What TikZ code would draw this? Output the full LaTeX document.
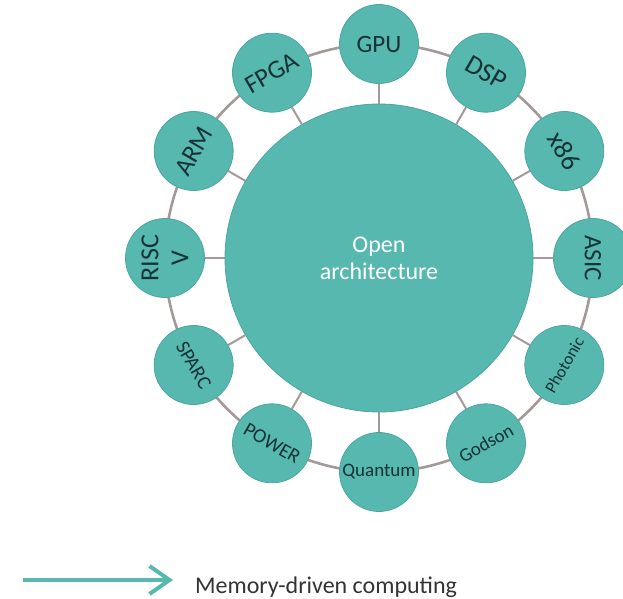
\documentclass[tikz,border=0pt]{standalone}
\usepackage{fontspec}
\setmainfont{Carlito}
\usepackage{tikz}
\usetikzlibrary{positioning,backgrounds,arrows.meta}
\definecolor{archteal}{RGB}{86,184,175}
\definecolor{archedge}{RGB}{76,166,158}
\definecolor{archgray}{RGB}{165,152,152}
\definecolor{archink}{RGB}{24,50,54}
\definecolor{legendink}{RGB}{51,51,51}

\begin{document}
\begin{tikzpicture}[
  x=1pt,y=1pt,
  core/.style={circle,fill=archteal,draw=archedge,line width=0.8pt,minimum size=308pt,inner sep=0pt,align=center,text=white,font=\fontsize{24}{27}\selectfont},
  sat/.style={circle,fill=archteal,draw=archedge,line width=0.8pt,minimum size=79pt,inner sep=0pt,align=center,text=archink,font=\fontsize{26}{30}\selectfont},
  satsmall/.style={sat,font=\fontsize{20}{22}\selectfont},
  spoke/.style={line width=2pt,color=archgray},
  ring/.style={line width=2.6pt,color=archgray,looseness=0.87},
  legarrow/.style={-{Straight Barb[length=20pt,width=28pt]},line width=4pt,color=archteal}
]
\useasboundingbox (-379,-340) rectangle (244,258);

\node[core] (core) at (0,0) {Open\\architecture};

% satellites, clockwise from the top
\node[sat,font=\fontsize{25}{30}\selectfont] (gpu) at (90:214) {GPU};
\node[sat,rotate=-30,font=\fontsize{27}{30}\selectfont] (dsp) at (60:214) {DSP};
\node[sat,rotate=-60,font=\fontsize{27}{30}\selectfont] (x86) at (30:214) {x86};
\node[sat,rotate=-90,font=\fontsize{25}{30}\selectfont] (asic) at (0:214) {ASIC};
\node[satsmall,rotate=60,font=\fontsize{17}{19}\selectfont] (photonic) at (-30:214) {Photonic};
\node[satsmall,rotate=30,font=\fontsize{19}{21}\selectfont] (godson) at (-60:214) {Godson};
\node[satsmall,font=\fontsize{19}{21}\selectfont] (quantum) at (-90:214) {Quantum};
\node[satsmall,rotate=-30] (power) at (-120:214) {POWER};
\node[satsmall,rotate=-60] (sparc) at (-150:214) {SPARC};
\node[sat,rotate=90] (riscv) at (180:214) {RISC\\V};
\node[sat,rotate=60] (arm) at (150:214) {ARM};
\node[sat,rotate=30] (fpga) at (120:214) {FPGA};

\begin{scope}[on background layer]
  \draw[ring] (gpu.center) to[bend left=15] (dsp.center);
  \draw[ring] (dsp.center) to[bend left=15] (x86.center);
  \draw[ring] (x86.center) to[bend left=15] (asic.center);
  \draw[ring] (asic.center) to[bend left=15] (photonic.center);
  \draw[ring] (photonic.center) to[bend left=15] (godson.center);
  \draw[ring] (godson.center) to[bend left=15] (quantum.center);
  \draw[ring] (quantum.center) to[bend left=15] (power.center);
  \draw[ring] (power.center) to[bend left=15] (sparc.center);
  \draw[ring] (sparc.center) to[bend left=15] (riscv.center);
  \draw[ring] (riscv.center) to[bend left=15] (arm.center);
  \draw[ring] (arm.center) to[bend left=15] (fpga.center);
  \draw[ring] (fpga.center) to[bend left=15] (gpu.center);

  \draw[spoke] (core) -- (gpu);
  \draw[spoke] (core) -- (dsp);
  \draw[spoke] (core) -- (x86);
  \draw[spoke] (core) -- (asic);
  \draw[spoke] (core) -- (photonic);
  \draw[spoke] (core) -- (godson);
  \draw[spoke] (core) -- (quantum);
  \draw[spoke] (core) -- (power);
  \draw[spoke] (core) -- (sparc);
  \draw[spoke] (core) -- (riscv);
  \draw[spoke] (core) -- (arm);
  \draw[spoke] (core) -- (fpga);
\end{scope}

% legend
\coordinate (legstart) at (-356,-322);
\coordinate (legtip) at (-206,-322);
\node[anchor=base west,inner sep=0pt,text=legendink,font=\fontsize{24}{26}\selectfont] (memtext) at (-184,-335) {Memory-driven computing};
\draw[legarrow] (legstart) -- (legtip);
\end{tikzpicture}
\end{document}
